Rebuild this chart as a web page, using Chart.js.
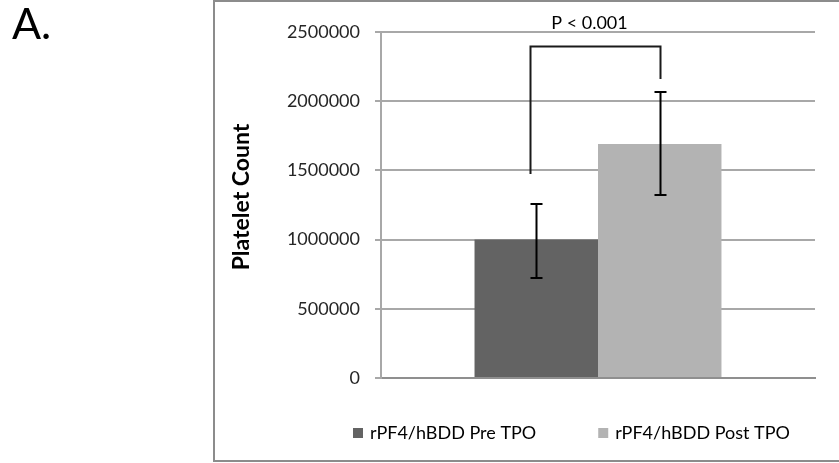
<!DOCTYPE html>
<html>
<head>
<meta charset="utf-8">
<script src="https://cdn.jsdelivr.net/npm/chart.js@4"></script>
<style>
  html, body { margin: 0; padding: 0; background: #ffffff; }
  #wrap { width: 839px; height: 463px; position: relative; }
</style>
</head>
<body>
<div id="wrap"><canvas id="chart" width="839" height="463"></canvas></div>
<script>
// Platelet counts before and after TPO treatment (mean with error range)
const categories = [''];
const seriesNames = ['rPF4/hBDD Pre TPO', 'rPF4/hBDD Post TPO'];
const preValues = [1000000];
const postValues = [1690000];
const preErrLow = [720000];
const preErrHigh = [1260000];
const postErrLow = [1320000];
const postErrHigh = [2065000];
const yTicks = [0, 500000, 1000000, 1500000, 2000000, 2500000];
const yTitle = 'Platelet Count';
const panelLabel = 'A.';
// significance bracket: left leg bottom, bar top, right leg bottom (data units)
const bracketLeft = 1475000;
const bracketTop = 2400000;
const bracketRight = 2160000;
const bracketText = 'P < 0.001';

const errLows = [preErrLow, postErrLow];
const errHighs = [preErrHigh, postErrHigh];

const FONT = 'Lato, "Open Sans", sans-serif';

const annotations = {
  id: 'annotations',
  beforeDraw(chart) {
    const ctx = chart.ctx;
    ctx.save();
    // outer frame
    ctx.strokeStyle = '#8c8c8c';
    ctx.lineWidth = 2;
    ctx.strokeRect(214, 1, 700, 460);
    // panel label
    ctx.fillStyle = '#000000';
    ctx.font = '43px ' + FONT;
    ctx.textBaseline = 'alphabetic';
    ctx.textAlign = 'left';
    ctx.fillText(panelLabel, 12, 39);
    // rotated axis title
    ctx.translate(249, 197);
    ctx.rotate(-Math.PI / 2);
    ctx.font = 'bold 23px ' + FONT;
    ctx.textAlign = 'center';
    ctx.fillText(yTitle, 0, 0);
    ctx.restore();
  },
  afterDatasetsDraw(chart) {
    const ctx = chart.ctx;
    const y = chart.scales.y;
    ctx.save();
    // error bars
    ctx.strokeStyle = '#000000';
    ctx.lineWidth = 2;
    chart.data.datasets.forEach((ds, di) => {
      const meta = chart.getDatasetMeta(di);
      meta.data.forEach((bar, i) => {
        const x = Math.round(bar.x) + 0.5;
        const yl = Math.round(y.getPixelForValue(errLows[di][i]));
        const yh = Math.round(y.getPixelForValue(errHighs[di][i]));
        ctx.beginPath();
        ctx.moveTo(x, yl); ctx.lineTo(x, yh);
        ctx.moveTo(x - 6, yl); ctx.lineTo(x + 6, yl);
        ctx.moveTo(x - 6, yh); ctx.lineTo(x + 6, yh);
        ctx.stroke();
      });
    });
    // significance bracket
    const b0 = chart.getDatasetMeta(0).data[0];
    const b1 = chart.getDatasetMeta(1).data[0];
    const xl = Math.round(b0.x - b0.width * 0.053) + 0.5;
    const xr = Math.round(b1.x) + 0.5;
    const yt = Math.round(y.getPixelForValue(bracketTop)) + 0.5;
    ctx.strokeStyle = '#1a1a1a';
    ctx.beginPath();
    ctx.moveTo(xl, Math.round(y.getPixelForValue(bracketLeft)));
    ctx.lineTo(xl, yt);
    ctx.lineTo(xr, yt);
    ctx.lineTo(xr, Math.round(y.getPixelForValue(bracketRight)));
    ctx.stroke();
    ctx.fillStyle = '#000000';
    ctx.font = '18px ' + FONT;
    ctx.textAlign = 'center';
    ctx.textBaseline = 'alphabetic';
    ctx.fillText(bracketText, (xl + xr) / 2 - 6, 29);
    // legend
    ctx.font = '18px ' + FONT;
    ctx.textAlign = 'left';
    let lx = 353;
    chart.data.datasets.forEach((ds) => {
      ctx.fillStyle = ds.backgroundColor;
      ctx.fillRect(lx, 428, 10, 10);
      ctx.fillStyle = '#000000';
      ctx.fillText(ds.label, lx + 17, 439);
      lx += 17 + ctx.measureText(ds.label).width + 62;
    });
    ctx.restore();
  }
};

new Chart(document.getElementById('chart'), {
  type: 'bar',
  data: {
    labels: categories,
    datasets: [
      { label: seriesNames[0], data: preValues, backgroundColor: '#636363', borderWidth: 0 },
      { label: seriesNames[1], data: postValues, backgroundColor: '#b3b3b3', borderWidth: 0 }
    ]
  },
  options: {
    responsive: false,
    animation: false,
    devicePixelRatio: 1,
    layout: { padding: { left: 214, top: 32, right: 24, bottom: 85 } },
    datasets: { bar: { categoryPercentage: 0.569, barPercentage: 1.0 } },
    plugins: { legend: { display: false }, tooltip: { enabled: false }, title: { display: false } },
    scales: {
      x: {
        grid: { display: false },
        ticks: { display: false },
        border: { display: true, color: '#8f8f8f', width: 2 },
        afterFit: (s) => { s.height = 0; }
      },
      y: {
        min: 0,
        max: 2500000,
        afterBuildTicks: (s) => { s.ticks = yTicks.map(v => ({ value: v })); },
        ticks: {
          callback: (v) => String(v),
          color: '#262626',
          font: { family: FONT, size: 18 },
          padding: 15
        },
        grid: { color: '#a8a8a8', lineWidth: 2, tickLength: 6, drawTicks: true },
        border: { display: true, color: '#a8a8a8', width: 2 },
        afterFit: (s) => { s.width = 167; }
      }
    }
  },
  plugins: [annotations]
});
</script>
</body>
</html>
